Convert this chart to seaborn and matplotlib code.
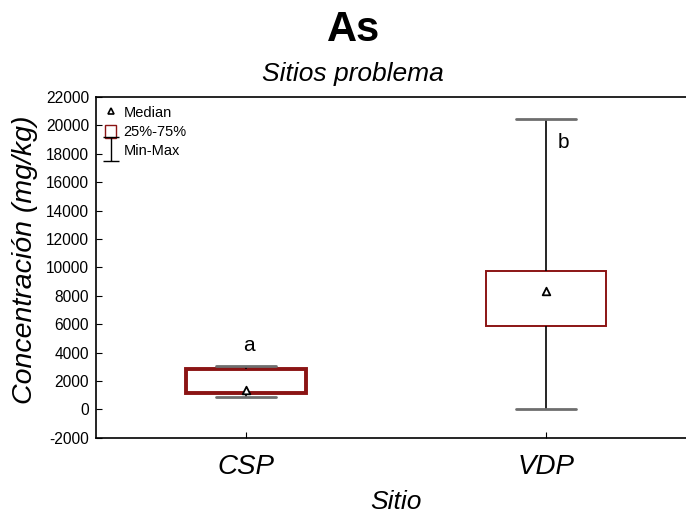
import numpy as np
import pandas as pd
import matplotlib
matplotlib.use("Agg")
import matplotlib.pyplot as plt
from matplotlib.lines import Line2D
from matplotlib.patches import Patch
from matplotlib.path import Path
import seaborn as sns

# Five-number summaries per site (mg/kg)
sites = ["CSP", "VDP"]
minimum = [840, 0]
q1 = [1150, 5860]
median = [1380, 8350]
q3 = [2830, 9730]
maximum = [3020, 20450]
group_letters = ["a", "b"]
y_ticks = list(range(-2000, 22001, 2000))

sns.set_theme(style="white")
plt.rcParams["font.family"] = ["Liberation Sans", "DejaVu Sans"]
plt.rcParams.update({"text.color": "black", "axes.labelcolor": "black",
                     "xtick.color": "black", "ytick.color": "black"})

rows = []
for i, s in enumerate(sites):
    for v in (minimum[i], q1[i], median[i], q3[i], maximum[i]):
        rows.append({"Sitio": s, "value": v})
df = pd.DataFrame(rows)

fig = plt.figure(figsize=(6.86, 5.14), dpi=100)
ax = fig.add_axes([0.14, 0.1484, 0.8746, 0.663])

box_red = "#8b1414"
sns.boxplot(
    data=df, x="Sitio", y="value", order=sites, whis=(0, 100), width=0.40,
    color="white", linecolor=box_red, linewidth=1.5, fliersize=0, ax=ax,
    medianprops={"visible": False},
    whiskerprops={"color": "black", "linewidth": 1.2},
    capprops={"color": "#6e6e6e", "linewidth": 2.0},
)
# the smaller box is drawn with a heavier outline
for k, patch in enumerate(ax.patches):
    patch.set_edgecolor(box_red)
    patch.set_linewidth(2.8 if k == 0 else 1.4)

med_df = pd.DataFrame({"Sitio": sites, "value": median})
sns.scatterplot(
    data=med_df, x="Sitio", y="value", marker="^", s=30,
    facecolor="white", edgecolor="black", linewidth=1.3, ax=ax, zorder=5,
)

# group letters
ax.text(0.01, 4500, group_letters[0], ha="center", va="center", fontsize=15)
ax.text(1.057, 18760, group_letters[1], ha="center", va="center", fontsize=15)

ax.set_xlim(-0.5, 1.5)
ax.set_ylim(-2000, 22000)
ax.set_yticks(y_ticks)
ax.set_yticklabels([str(t) for t in y_ticks], fontsize=11.2)
ax.set_xticks([0, 1])
ax.set_xticklabels(sites, fontsize=20, style="italic")
ax.tick_params(axis="both", direction="in", length=4, width=0.8, colors="black",
               left=True, bottom=True)
ax.tick_params(axis="x", pad=12)
ax.tick_params(axis="y", pad=5)
ax.set_xlabel("Sitio", fontsize=19, style="italic")
ax.set_ylabel("Concentración (mg/kg)", fontsize=20.5, style="italic")
ax.xaxis.set_label_coords(0.5, -0.188)
ax.yaxis.set_label_coords(-0.118, 0.522)
ax.xaxis.label.set_va("center")
ax.yaxis.label.set_va("center")
for side in ("left", "bottom", "top"):
    ax.spines[side].set_color("black")
    ax.spines[side].set_linewidth(1.2)
ax.spines["right"].set_visible(False)

# legend
ibeam = Path([(-0.7, 1), (0.7, 1), (0, 1), (0, -1), (-0.7, -1), (0.7, -1)],
             [Path.MOVETO, Path.LINETO, Path.MOVETO, Path.LINETO, Path.MOVETO, Path.LINETO])
handles = [
    Line2D([], [], linestyle="none", marker="^", markersize=5,
           markerfacecolor="white", markeredgecolor="black", markeredgewidth=1.2),
    Patch(facecolor="white", edgecolor=box_red, linewidth=1.0),
    Line2D([], [], linestyle="none", marker=ibeam, markersize=17,
           markeredgecolor="black", markeredgewidth=1.0),
]
leg = ax.legend(handles, ["Median", "25%-75%", "Min-Max"], loc="upper left",
                frameon=False, fontsize=10.5, handlelength=0.8, handleheight=1.0,
                handletextpad=0.5, labelspacing=0.3, borderaxespad=0.2,
                bbox_to_anchor=(0.0, 1.0))

fig.text(0.515, 0.942, "As", ha="center", va="center", fontsize=30, fontweight="bold")
fig.text(0.515, 0.857, "Sitios problema", ha="center", va="center", fontsize=19, style="italic")

fig.savefig("out.png", dpi=100, facecolor="white")
